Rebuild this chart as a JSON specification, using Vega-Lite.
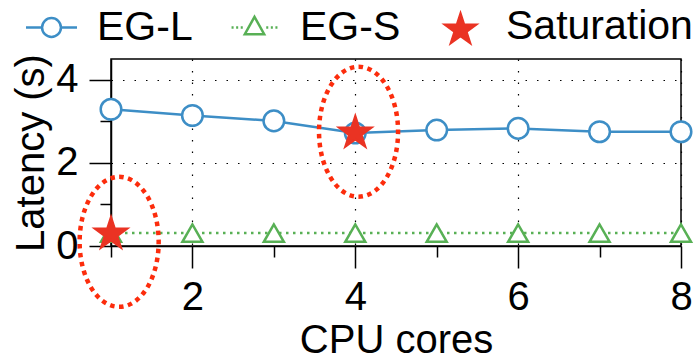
{
  "$schema": "https://vega.github.io/schema/vega-lite/v6.json",
  "width": 570,
  "height": 187,
  "autosize": {"type": "none"},
  "padding": {"left": 111, "top": 59, "right": 17, "bottom": 114},
  "background": "white",
  "config": {
    "view": {"stroke": "black", "strokeWidth": 1.5},
    "font": "Liberation Sans",
    "axis": {
      "labelFont": "Liberation Sans",
      "titleFont": "Liberation Sans",
      "labelFontSize": 40,
      "titleFontSize": 40,
      "titleFontWeight": "normal",
      "labelColor": "black",
      "titleColor": "black",
      "tickColor": "black",
      "tickWidth": 1.5,
      "domainColor": "black",
      "domainWidth": 1.5,
      "gridColor": "black",
      "gridDash": [1.5, 10],
      "gridWidth": 1.2,
      "labelOverlap": false,
      "labelFlush": false
    },
    "legend": {
      "symbolSize": 2601,
      "symbolStrokeWidth": 2.5,
      "symbolOpacity": 1,
      "labelFont": "Liberation Sans",
      "labelFontSize": 41,
      "labelColor": "black",
      "labelOffset": 18.5,
      "labelLimit": 400,
      "columnPadding": 33,
      "padding": 0
    }
  },
  "datasets": {
    "main": [
      {"cores": 1, "latency": 3.29, "series": "EG-L"},
      {"cores": 2, "latency": 3.14, "series": "EG-L"},
      {"cores": 3, "latency": 3.01, "series": "EG-L"},
      {"cores": 4, "latency": 2.72, "series": "EG-L"},
      {"cores": 5, "latency": 2.79, "series": "EG-L"},
      {"cores": 6, "latency": 2.83, "series": "EG-L"},
      {"cores": 7, "latency": 2.75, "series": "EG-L"},
      {"cores": 8, "latency": 2.75, "series": "EG-L"},
      {"cores": 1, "latency": 0.31, "series": "EG-S"},
      {"cores": 2, "latency": 0.31, "series": "EG-S"},
      {"cores": 3, "latency": 0.31, "series": "EG-S"},
      {"cores": 4, "latency": 0.31, "series": "EG-S"},
      {"cores": 5, "latency": 0.31, "series": "EG-S"},
      {"cores": 6, "latency": 0.31, "series": "EG-S"},
      {"cores": 7, "latency": 0.31, "series": "EG-S"},
      {"cores": 8, "latency": 0.31, "series": "EG-S"},
      {"cores": 1, "latency": 0.29, "series": "Saturation"},
      {"cores": 4, "latency": 2.72, "series": "Saturation"}
    ]
  },
  "encoding": {
    "x": {
      "field": "cores",
      "type": "quantitative",
      "scale": {"domain": [1, 8], "nice": false, "zero": false},
      "axis": {
        "orient": "bottom",
        "values": [1, 2, 3, 4, 5, 6, 7, 8],
        "title": "CPU cores",
        "labelExpr": "datum.value % 2 === 0 ? datum.label : ''",
        "tickSize": {"condition": {"test": "datum.value % 2 === 0", "value": 22}, "value": 11},
        "grid": true,
        "gridOpacity": {"condition": {"test": "datum.value % 2 === 0", "value": 1}, "value": 0},
        "labelPadding": 9,
        "titleY": 106,
        "titleBaseline": "alphabetic"
      }
    },
    "y": {
      "field": "latency",
      "type": "quantitative",
      "scale": {"domain": [0, 4.5], "nice": false, "zero": false},
      "axis": {
        "orient": "left",
        "values": [0, 1, 2, 3, 4],
        "title": "Latency (s)",
        "labelExpr": "datum.value % 2 === 0 ? datum.label : ''",
        "tickSize": {"condition": {"test": "datum.value % 2 === 0", "value": 22}, "value": 11},
        "grid": true,
        "gridOpacity": {"condition": {"test": "datum.value % 2 === 0", "value": 1}, "value": 0},
        "labelPadding": 11,
        "titleX": -68,
        "titleY": 93.5,
        "titleAngle": 270,
        "titleAlign": "center",
        "titleBaseline": "alphabetic"
      }
    }
  },
  "layer": [
    {
      "data": {"name": "main"},
      "mark": {"type": "point", "filled": false, "strokeWidth": 2.5, "size": 0, "opacity": 1},
      "encoding": {
        "shape": {
          "field": "series",
          "type": "nominal",
          "scale": {
            "domain": ["EG-L", "EG-S", "Saturation"],
            "range": [
              "M-1,0L-0.37,0M0.37,0L1,0M-0.37,0A0.37,0.37,0,1,0,0.37,0A0.37,0.37,0,1,0,-0.37,0Z",
              "M-0.9,0L-0.82,0M-0.72,0L-0.64,0M-0.54,0L-0.46,0M0.46,0L0.54,0M0.64,0L0.72,0M0.82,0L0.9,0M0,-0.42L0.38,0.265L-0.38,0.265Z",
              "M0,-0.53L0.141,-0.095L0.599,-0.095L0.229,0.174L0.37,0.61L0,0.341L-0.37,0.61L-0.229,0.174L-0.599,-0.095L-0.141,-0.095Z"
            ]
          },
          "legend": {"title": null, "orient": "none", "legendX": -86.5, "legendY": -59, "direction": "horizontal"}
        },
        "fill": {
          "field": "series",
          "type": "nominal",
          "scale": {"domain": ["EG-L", "EG-S", "Saturation"], "range": ["white", "white", "#ea3323"]},
          "legend": {"title": null, "orient": "none", "legendX": -86.5, "legendY": -59, "direction": "horizontal"}
        },
        "stroke": {
          "field": "series",
          "type": "nominal",
          "scale": {"domain": ["EG-L", "EG-S", "Saturation"], "range": ["#3d8ec6", "#58b055", "#ea3323"]},
          "legend": {"title": null, "orient": "none", "legendX": -86.5, "legendY": -59, "direction": "horizontal"}
        }
      }
    },
    {
      "data": {"name": "main"},
      "transform": [{"filter": "datum.series === 'EG-L'"}],
      "mark": {"type": "line", "strokeWidth": 2.5, "stroke": "#3d8ec6"}
    },
    {
      "data": {"name": "main"},
      "transform": [{"filter": "datum.series === 'EG-S'"}],
      "mark": {"type": "line", "strokeWidth": 2.5, "stroke": "#58b055", "strokeDash": [2.5, 4.5]}
    },
    {
      "data": {"name": "main"},
      "transform": [{"filter": "datum.series === 'EG-L'"}],
      "mark": {"type": "point", "shape": "M-1.03,0A1.03,1.03,0,1,0,1.03,0A1.03,1.03,0,1,0,-1.03,0Z", "size": 400, "filled": false, "fill": "white", "stroke": "#3d8ec6", "strokeWidth": 2.5, "opacity": 1}
    },
    {
      "data": {"name": "main"},
      "transform": [{"filter": "datum.series === 'EG-S'"}],
      "mark": {"type": "point", "shape": "triangle-up", "size": 400, "filled": false, "fill": "white", "stroke": "#58b055", "strokeWidth": 2.5, "opacity": 1}
    },
    {
      "data": {"name": "main"},
      "transform": [{"filter": "datum.series === 'Saturation'"}],
      "mark": {"type": "point", "shape": "M0,-1.65L0.37,-0.51L1.569,-0.51L0.599,0.195L0.97,1.335L0,0.63L-0.97,1.335L-0.599,0.195L-1.569,-0.51L-0.37,-0.51Z", "size": 400, "filled": true, "fill": "#ea3323", "stroke": "#ea3323", "strokeWidth": 2.5, "opacity": 1}
    },
    {
      "data": {"values": [{"cores": 1.1, "latency": 0.1}, {"cores": 4.04, "latency": 2.75}]},
      "mark": {
        "type": "point",
        "shape": "M0,-1A0.608,1,0,1,1,0,1A0.608,1,0,1,1,0,-1Z",
        "size": 16900,
        "filled": false,
        "stroke": "#fc2c0c",
        "strokeWidth": 4.5,
        "strokeDash": [4.5, 4.5],
        "opacity": 1
      }
    }
  ]
}
